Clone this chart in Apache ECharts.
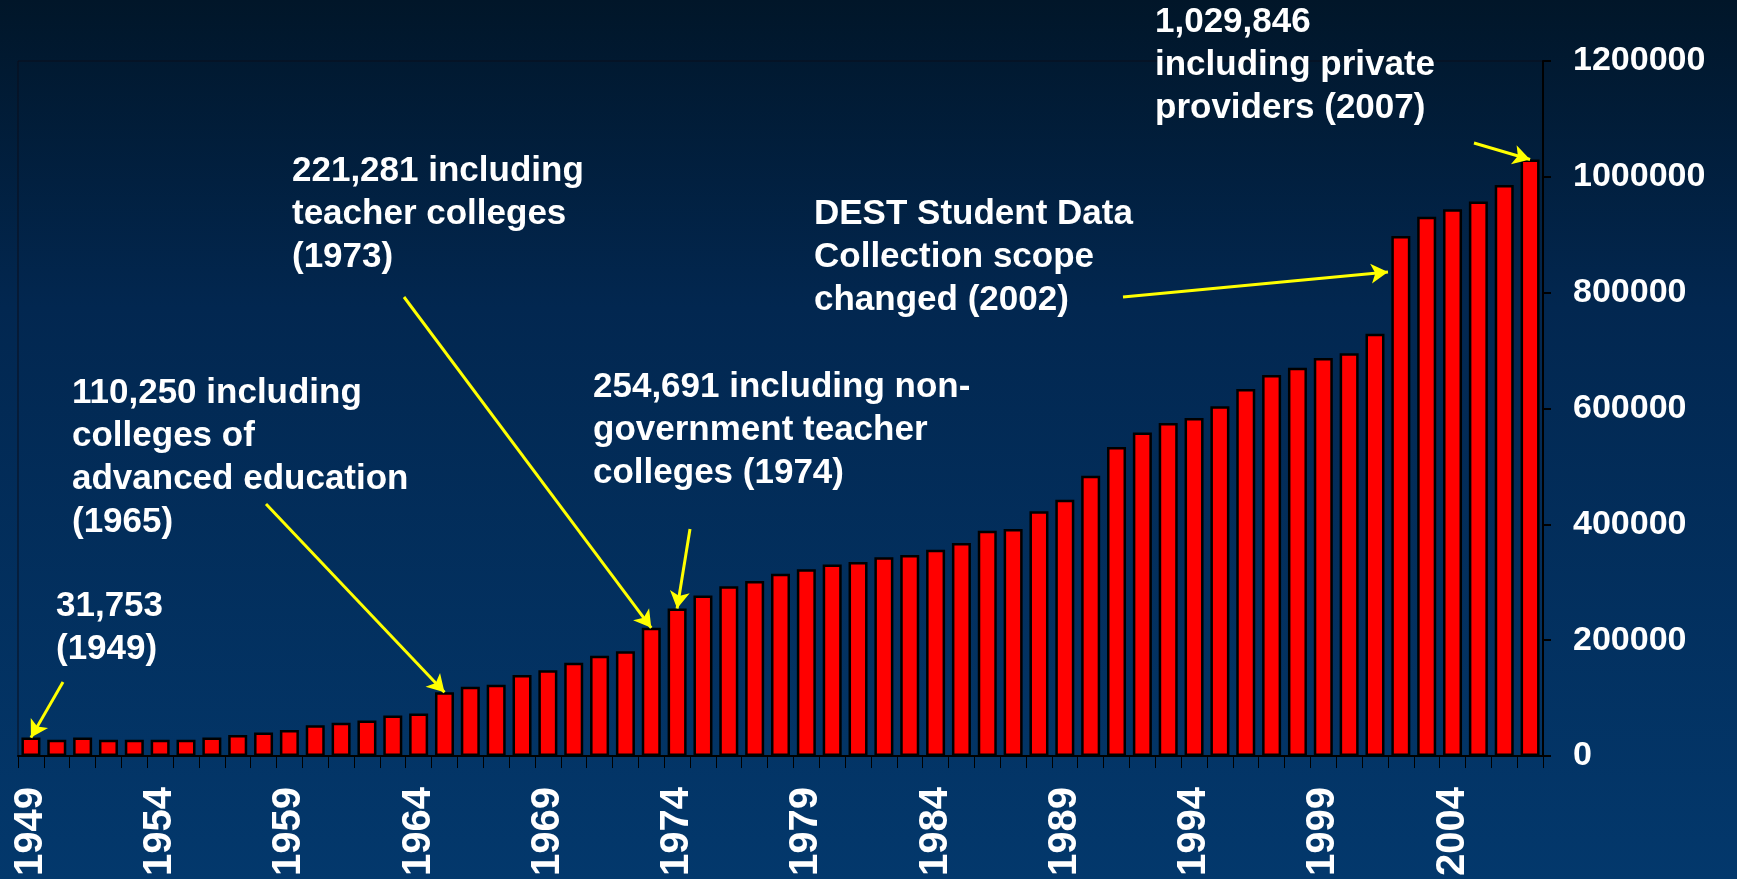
<!DOCTYPE html>
<html>
<head>
<meta charset="utf-8">
<script src="https://cdn.jsdelivr.net/npm/echarts@6/dist/echarts.min.js"></script>
<style>
  html, body { margin: 0; padding: 0; }
  #chart {
    width: 1737px; height: 879px;
    background: linear-gradient(to bottom, #011629 0%, #022750 35%, #03386c 100%);
  }
</style>
</head>
<body>
<div id="chart"></div>
<script>
// years 1949..2007
const years = [];
for (let y = 1949; y <= 2007; y++) years.push(String(y));

// student numbers
const students = [
  31753, 28000, 32000, 28000, 28000, 28000, 28000, 32000, 36500, 40500,
  45000, 53000, 57500, 61500, 70000, 73500, 110250, 119500, 123000, 140000,
  148000, 161000, 173000, 181000, 221281, 254691, 277000, 293000, 302000, 314500,
  322500, 330500, 335000, 343000, 347000, 356000, 368000, 389000, 392000, 422500,
  442500, 484000, 533500, 558500, 575000, 583500, 604000, 633500, 658000, 670500,
  687000, 695500, 729000, 898000, 931000, 944000, 957500, 986000, 1029846
];

const yTicks = [0, 200000, 400000, 600000, 800000, 1000000, 1200000];

const notes = [
  { text: '1,029,846\nincluding private\nproviders (2007)', left: 1155, top: 1 },
  { text: 'DEST Student Data\nCollection scope\nchanged (2002)', left: 814, top: 193 },
  { text: '221,281 including\nteacher colleges\n(1973)', left: 292, top: 150 },
  { text: '254,691 including non-\ngovernment teacher\ncolleges (1974)', left: 593, top: 366 },
  { text: '110,250 including\ncolleges of\nadvanced education\n(1965)', left: 72, top: 372 },
  { text: '31,753\n(1949)', left: 56, top: 585 }
];

// arrow start (pixels) -> bar it points at
const arrows = [
  { from: [1474, 143], year: '2007' },
  { from: [1123, 297], to: [1388, 272] },
  { from: [404, 297], year: '1973' },
  { from: [690, 529], year: '1974' },
  { from: [266, 504], year: '1965' },
  { from: [63, 682], year: '1949' }
];

const font = '"Liberation Sans", Arial, sans-serif';

let chart = echarts.init(document.getElementById('chart'));

chart.setOption({
  backgroundColor: 'transparent',
  animation: false,
  grid: {
    left: 18,
    right: 194,
    top: 61,
    bottom: 121,
    show: true,
    borderColor: '#0a0f1c',
    borderWidth: 1
  },
  xAxis: {
    type: 'category',
    data: years,
    axisLine: { lineStyle: { color: '#000', width: 2 } },
    axisTick: { show: true, interval: 0, length: 12, lineStyle: { color: '#000', width: 1 } },
    axisLabel: {
      interval: 4,
      rotate: 90,
      margin: 31,
      color: '#fff',
      fontSize: 40,
      fontWeight: 'bold',
      fontFamily: font
    },
    splitLine: { show: false }
  },
  yAxis: {
    type: 'value',
    position: 'right',
    min: 0,
    max: 1200000,
    interval: 200000,
    axisLine: { show: true, lineStyle: { color: '#000', width: 2 } },
    axisTick: { show: true, length: 8, lineStyle: { color: '#000', width: 2 } },
    axisLabel: {
      margin: 30,
      color: '#fff',
      fontSize: 34,
      fontWeight: 'bold',
      fontFamily: font,
      formatter: function (v) {
        return yTicks.indexOf(v) >= 0 ? String(v) : '';
      }
    },
    splitLine: { show: false }
  },
  series: [
    {
      type: 'bar',
      data: students,
      barWidth: 19,
      clip: false,
      itemStyle: {
        color: '#ff0000',
        borderColor: '#000',
        borderWidth: 2.5
      },
      markLine: {
        silent: true,
        symbol: ['none', 'arrow'],
        symbolSize: [15, 17],
        label: { show: false },
        lineStyle: { color: '#ffff00', width: 3, type: 'solid' },
        data: arrows.map(function (a) {
          let end;
          if (a.year) {
            end = { coord: [a.year, students[years.indexOf(a.year)]] };
          } else {
            end = { x: a.to[0], y: a.to[1] };
          }
          return [{ x: a.from[0], y: a.from[1] }, end];
        })
      }
    }
  ],
  graphic: notes.map(function (n) {
    return {
      type: 'text',
      left: n.left,
      top: n.top,
      z: 10,
      style: {
        text: n.text,
        fill: '#fff',
        font: 'bold 35px ' + font,
        lineHeight: 43
      }
    };
  })
});
</script>
</body>
</html>
